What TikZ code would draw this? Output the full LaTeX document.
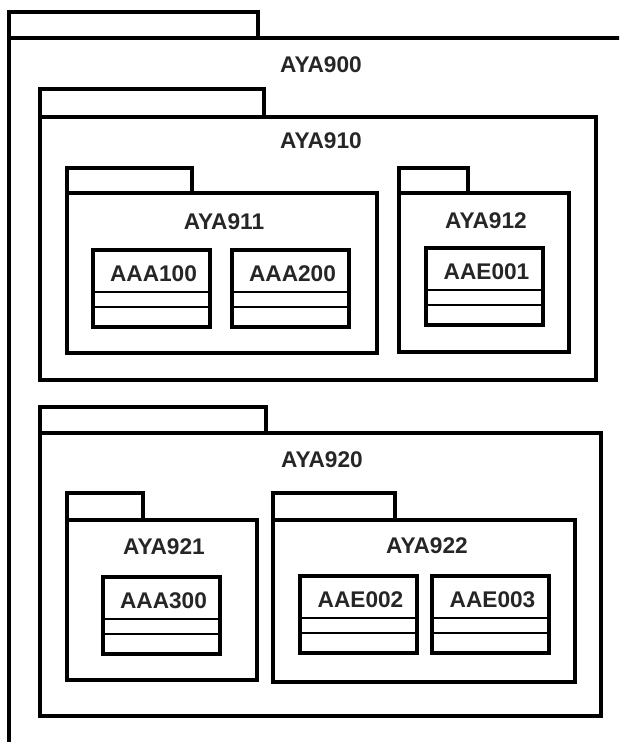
\documentclass[tikz,border=0pt]{standalone}
\usepackage{fontspec}
\setmainfont{Liberation Sans}

\begin{document}
\begin{tikzpicture}[
            x=0.75pt,
            y=-0.75pt,
            pkg/.style={
                draw,
                line width=2.4pt
            },
            cls/.style={
                draw,
                fill=white,
                line width=2.4pt
            },
            clsline/.style={
                line width=1.2pt
            },
            title/.style={
                font=\fontsize{17}{20}\selectfont\bfseries,
                text=black!85,
                inner sep=0pt
            }
        ]

            % Page frame
            \clip (0,0) rectangle (619,742);

            % Class box parameters
            \def\clsW{117}
            \def\clsH{77}
            \def\sepA{42}
            \def\sepB{57}

            % Packages: name / left / tab top / tab right / body top / right / bottom / label x / label y
            \foreach \name/\xl/\yt/\xt/\yb/\xr/\ybot/\lx/\ly in {
                AYA900/9/12/258/38/640/760/321/65,
                AYA910/40/89/264/117/596/380/321/141,
                AYA911/67/168/192/193/377/353/224/222,
                AYA912/399/168/468/193/569/352/486/221,
                AYA920/40/407/266/433/601/716/322/460,
                AYA921/67/493/143/520/257/680/164/547,
                AYA922/273/493/395/520/575/682/427/546} {

            % tab and body
                \draw[pkg] (\xl,\yb) |- (\xt,\yt) -- (\xt,\yb);
                \draw[pkg] (\xl,\yb) rectangle (\xr,\ybot);

            % package name
                \node[title] (\name) at (\lx,\ly) {\name};
            }

            % Classes: name / left / top
            \foreach \name/\xl/\yt in {
                AAA100/93/250,
                AAA200/232/250,
                AAE001/426/248,
                AAA300/103/577,
                AAE002/300/576,
                AAE003/432/576} {

                \draw[cls] (\xl,\yt) rectangle ++(\clsW,\clsH);
                \draw[clsline] (\xl,\yt+\sepA) -- ++(\clsW,0);
                \draw[clsline] (\xl,\yt+\sepB) -- ++(\clsW,0);
                \node[title] (\name) at (\xl+\clsW/2+2,\yt+24) {\name};
            }

        \end{tikzpicture}
\end{document}
